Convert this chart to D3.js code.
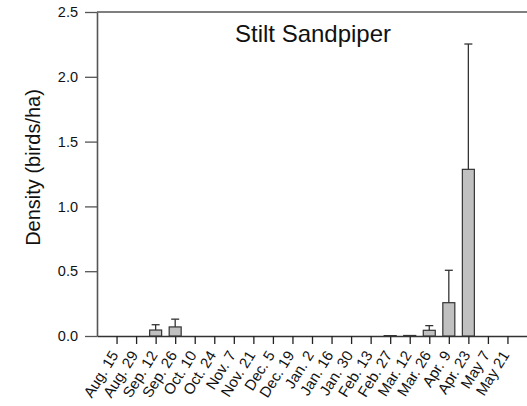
<!DOCTYPE html>
<html><head><meta charset="utf-8">
<script src="https://cdn.jsdelivr.net/npm/d3@7"></script>
<style>body{margin:0;background:#fff}svg{display:block}svg text{font-family:"Liberation Sans",Arial,sans-serif}</style>
</head><body>
<svg id="c" width="527" height="406"></svg>
<script>
const categories = ["Aug. 15","Aug. 29","Sep. 12","Sep. 26","Oct. 10","Oct. 24","Nov. 7","Nov. 21","Dec. 5","Dec. 19","Jan. 2","Jan. 16","Jan. 30","Feb. 13","Feb. 27","Mar. 12","Mar. 26","Apr. 9","Apr. 23","May 7","May 21"];
const density = [0,0,0.046,0.07,0,0,0,0,0,0,0,0,0,0,0.003,0.004,0.044,0.257,1.286,0,0];
const errUpper = [0,0,0.087,0.13,0,0,0,0,0,0,0,0,0,0,0.003,0.004,0.08,0.507,2.253,0,0];
const yTicks = [0,0.5,1,1.5,2,2.5];
const title = "Stilt Sandpiper";
const yLabel = "Density (birds/ha)";

(function(){
const svg = d3.select("#c");
const mL = 97, mR = 527, mT = 12, mB = 336;
const x = d3.scalePoint().domain(categories).range([mL, mR]).padding(1);
const y = d3.scaleLinear().domain([0, 2.5]).range([mB, mT]);
const axisColor = "#555";
const font = '"Liberation Sans",Arial,sans-serif';

const ya = svg.append("g").attr("transform", `translate(${mL},0)`)
  .call(d3.axisLeft(y).tickValues(yTicks).tickFormat(d3.format(".1f")).tickSize(12).tickSizeOuter(0));
ya.attr("font-family", font);
ya.select(".domain").attr("stroke", axisColor).attr("stroke-width", 1.6);
ya.selectAll(".tick line").attr("stroke", axisColor).attr("stroke-width", 1.3);
ya.selectAll(".tick text").attr("font-size", 14.5).attr("fill", "#111").attr("x", -19);

svg.append("line").attr("x1", mL).attr("x2", mR).attr("y1", y(2.5)).attr("y2", y(2.5))
  .attr("stroke", axisColor).attr("stroke-width", 1.6);

const xa = svg.append("g").attr("transform", `translate(0,${mB})`)
  .call(d3.axisBottom(x).tickSize(8).tickSizeOuter(0));
xa.attr("font-family", font);
xa.select(".domain").attr("stroke", "#333").attr("stroke-width", 1.6);
xa.selectAll(".tick line").attr("stroke", "#222").attr("stroke-width", 1.3);
xa.selectAll(".tick text").attr("font-size", 15).attr("fill", "#111")
  .attr("text-anchor", "end").attr("dy", 0).attr("y", 0).attr("x", 0)
  .attr("transform", "translate(2,19) rotate(-58)");

const bw = 12;
const data = categories.map((c, i) => ({c, v: density[i], e: errUpper[i]}));
const eb = data.filter(d => d.e > d.v + 0.005);
svg.append("g").selectAll("line").data(eb).join("line")
  .attr("x1", d => x(d.c)).attr("x2", d => x(d.c))
  .attr("y1", d => y(d.v)).attr("y2", d => y(d.e))
  .attr("stroke", "#333").attr("stroke-width", 1.3);
svg.append("g").selectAll("line").data(eb).join("line")
  .attr("x1", d => x(d.c) - 4).attr("x2", d => x(d.c) + 4)
  .attr("y1", d => y(d.e)).attr("y2", d => y(d.e))
  .attr("stroke", "#333").attr("stroke-width", 1.3);
svg.append("g").selectAll("rect").data(data.filter(d => d.v > 0)).join("rect")
  .attr("x", d => x(d.c) - bw / 2).attr("width", bw)
  .attr("y", d => y(d.v)).attr("height", d => y(0) - y(d.v))
  .attr("fill", "#c0c0c0").attr("stroke", "#333").attr("stroke-width", 1.2);

svg.append("text").attr("x", 313).attr("y", 41.5).attr("text-anchor", "middle")
  .attr("font-size", 24).attr("fill", "#111").text(title);
svg.append("text").attr("transform", `translate(40,167.5) rotate(-90)`)
  .attr("text-anchor", "middle").attr("font-size", 20).attr("fill", "#111").text(yLabel);
})();
</script>
</body></html>
